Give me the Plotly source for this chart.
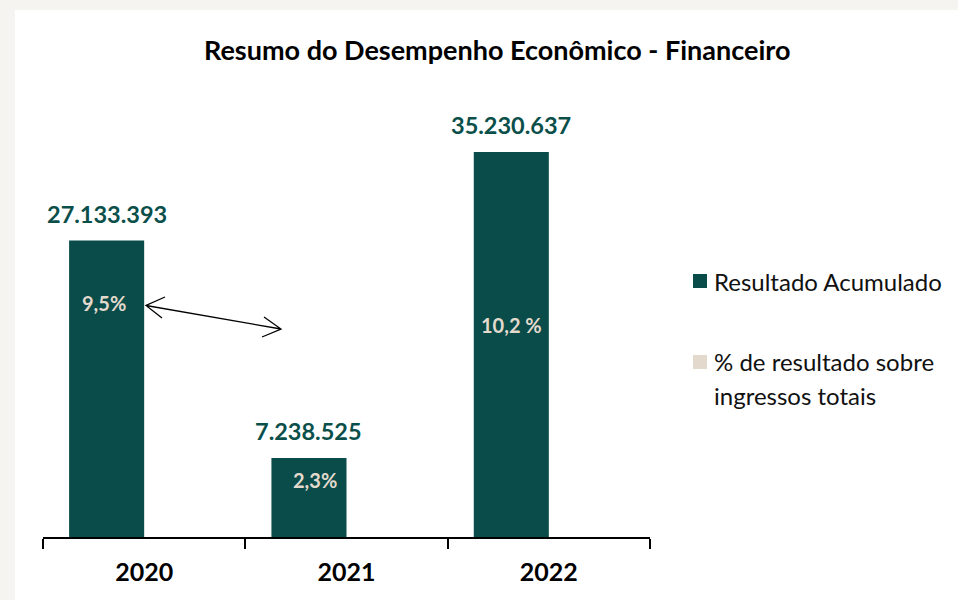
import plotly.graph_objects as go

# --- data -------------------------------------------------------------
years = ["2020", "2021", "2022"]
resultado_acumulado = [27133393, 7238525, 35230637]
pct_labels = ["9,5%", "2,3%", "10,2 %"]          # % de resultado sobre ingressos totais

title_text = "Resumo do Desempenho Econômico - Financeiro"
legend_labels = ["Resultado Acumulado", "% de resultado sobre", "ingressos totais"]

# --- styling ----------------------------------------------------------
BAR = "#094C49"
LABEL = "#0B4F4A"
BEIGE = "#E3DACD"
FONT = "Lato"
W, H = 958, 600
L, R, T, B = 43, 308, 100, 63           # plot-area margins (px)
PW, PH = W - L - R, H - T - B
BAR_W = 0.371                           # bars sit in the left half of each category slot
pct_height = [0.79, 0.72, 0.55]         # where each % label sits, as a share of bar height
pct_xshift = [-3, 6, 0]


def px(x):
    return (x - L) / PW


def py(y):
    return (H - B - y) / PH


def fmt_pt(v):
    return f"{v:,}".replace(",", ".")


fig = go.Figure()
fig.add_trace(go.Bar(
    x=years, y=resultado_acumulado, name="Resultado Acumulado",
    marker=dict(color=BAR, line=dict(width=0)), width=BAR_W, offset=-BAR_W,
    showlegend=False, hoverinfo="skip",
))

annotations = []
# value labels above the bars (x given as category index, shifted to the bar centre)
for i, v in enumerate(resultado_acumulado):
    annotations.append(dict(
        x=i - BAR_W / 2, y=v, xref="x", yref="y", text=f"<b>{fmt_pt(v)}</b>", showarrow=False,
        yanchor="middle", yshift=27, font=dict(family=FONT, size=23.5, color=LABEL),
    ))
# percentage labels inside the bars
for i, (v, t, f, dx) in enumerate(zip(resultado_acumulado, pct_labels, pct_height, pct_xshift)):
    annotations.append(dict(
        x=i - BAR_W / 2, y=v * f, xref="x", yref="y", text=f"<b>{t}</b>", showarrow=False,
        yanchor="middle", xshift=dx, font=dict(family=FONT, size=20, color=BEIGE),
    ))
# title
annotations.append(dict(
    x=px(497), y=py(50), xref="paper", yref="paper", text=f"<b>{title_text}</b>",
    showarrow=False, xanchor="center", yanchor="middle",
    font=dict(family=FONT, size=27, color="#000000"),
))
# legend text
for t, yy in zip(legend_labels, [281, 361, 395]):
    annotations.append(dict(
        x=px(712), y=py(yy), xref="paper", yref="paper", text=t, showarrow=False,
        xanchor="left", yanchor="middle", font=dict(family=FONT, size=24, color="#111111"),
    ))

shapes = [
    # white card on the light page background
    dict(type="rect", xref="paper", yref="paper", x0=px(15), x1=px(W + 5), y0=py(H + 5), y1=py(10),
         fillcolor="white", line=dict(width=0), layer="below"),
    # legend swatches
    dict(type="rect", xref="paper", yref="paper", x0=px(693), x1=px(707), y0=py(288), y1=py(274),
         fillcolor=BAR, line=dict(width=0)),
    dict(type="rect", xref="paper", yref="paper", x0=px(693), x1=px(707), y0=py(369), y1=py(355),
         fillcolor=BEIGE, line=dict(width=0)),
]
# double-headed arrow with open heads
a0, a1 = (146, 305.5), (281, 329)
path = (f"M{px(a0[0])},{py(a0[1])} L{px(a1[0])},{py(a1[1])} "
        f"M{px(165)},{py(297)} L{px(a0[0])},{py(a0[1])} L{px(162)},{py(318)} "
        f"M{px(264)},{py(317)} L{px(a1[0])},{py(a1[1])} L{px(262)},{py(337)}")
shapes.append(dict(type="path", xref="paper", yref="paper", path=path,
                   line=dict(color="#000000", width=1.3)))

fig.update_layout(
    width=W, height=H,
    margin=dict(l=L, r=R, t=T, b=B),
    paper_bgcolor="#F5F4F0", plot_bgcolor="white",
    showlegend=False,
    annotations=annotations, shapes=shapes,
)
fig.update_xaxes(
    type="category", range=[-0.5, 2.5], showline=True, linecolor="#000000", linewidth=2,
    ticks="outside", tickson="boundaries", ticklen=10, tickwidth=2, tickcolor="#000000",
    showgrid=False, zeroline=False, ticklabelstandoff=12,
    tickfont=dict(family=FONT, size=25, color="#000000"),
    tickprefix="<b>", ticksuffix="</b>",
)
fig.update_yaxes(range=[0, 40000000], visible=False, showgrid=False)

fig.write_html("out.html")
